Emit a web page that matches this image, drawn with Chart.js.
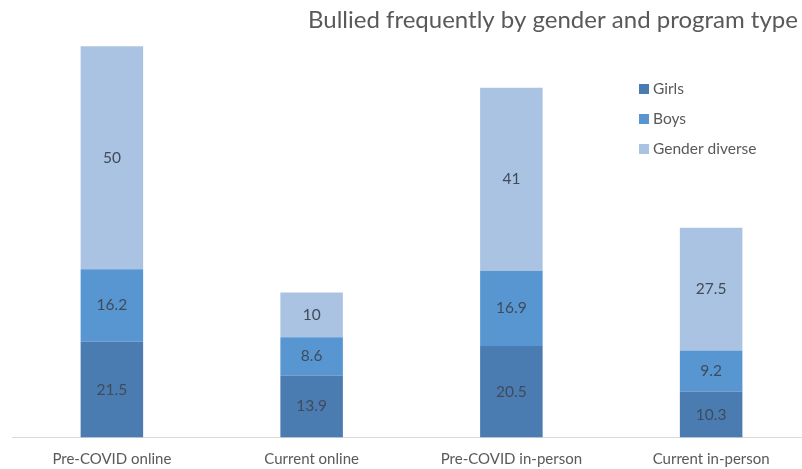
<!DOCTYPE html>
<html>
<head>
<meta charset="utf-8">
<script src="https://cdn.jsdelivr.net/npm/chart.js@4/dist/chart.umd.min.js"></script>
<style>
  html, body { margin: 0; padding: 0; background: #ffffff; overflow: hidden; }
  #wrap { width: 802px; height: 469px; overflow: hidden; position: relative; }
  canvas { display: block; }
</style>
</head>
<body>
<div id="wrap"><canvas id="c" width="815" height="469"></canvas></div>
<script>
const titleText = "Bullied frequently by gender and program type";
const categories = ["Pre-COVID online", "Current online", "Pre-COVID in-person", "Current in-person"];
const seriesNames = ["Girls", "Boys", "Gender diverse"];
const girls = [21.5, 13.9, 20.5, 10.3];
const boys = [16.2, 8.6, 16.9, 9.2];
const genderDiverse = [50, 10, 41, 27.5];
const colors = ["#4a7bb1", "#5896d2", "#aac3e3"];

const FONT = "Lato, 'Open Sans', sans-serif";

const titlePlugin = {
  id: 'customTitle',
  afterDraw(chart) {
    const ctx = chart.ctx;
    ctx.save();
    ctx.font = "24px " + FONT;
    ctx.fillStyle = "#595959";
    ctx.textAlign = "left";
    ctx.textBaseline = "alphabetic";
    ctx.fillText(titleText, 308, 28);
    ctx.restore();
  }
};

const legendPlugin = {
  id: 'customLegend',
  afterDraw(chart) {
    const ctx = chart.ctx;
    ctx.save();
    ctx.font = "15.5px " + FONT;
    ctx.textBaseline = "middle";
    ctx.textAlign = "left";
    chart.data.datasets.forEach((ds, i) => {
      const cy = 89 + i * 30;
      ctx.fillStyle = ds.backgroundColor;
      ctx.fillRect(639, cy - 5, 10, 10);
      ctx.fillStyle = "#595959";
      ctx.fillText(ds.label, 653, cy);
    });
    ctx.restore();
  }
};

const valueLabelPlugin = {
  id: 'valueLabels',
  afterDatasetsDraw(chart) {
    const ctx = chart.ctx;
    ctx.save();
    ctx.font = "15.5px " + FONT;
    ctx.fillStyle = "#404b5a";
    ctx.textAlign = "center";
    ctx.textBaseline = "middle";
    chart.data.datasets.forEach((ds, i) => {
      const meta = chart.getDatasetMeta(i);
      meta.data.forEach((bar, j) => {
        const cy = (bar.y + bar.base) / 2;
        ctx.fillText(String(ds.data[j]), bar.x, cy);
      });
    });
    ctx.restore();
  }
};

new Chart(document.getElementById('c'), {
  type: 'bar',
  data: {
    labels: categories,
    datasets: [
      { label: seriesNames[0], data: girls, backgroundColor: colors[0] },
      { label: seriesNames[1], data: boys, backgroundColor: colors[1] },
      { label: seriesNames[2], data: genderDiverse, backgroundColor: colors[2] }
    ]
  },
  options: {
    responsive: false,
    animation: false,
    layout: { padding: { top: 36, left: 12, right: 4, bottom: 0 } },
    datasets: { bar: { categoryPercentage: 1, barPercentage: 0.313, borderWidth: 0 } },
    plugins: {
      legend: { display: false },
      title: { display: false },
      tooltip: { enabled: false }
    },
    scales: {
      x: {
        stacked: true,
        grid: { display: false },
        border: { display: true, color: "#d9d9d9", width: 1 },
        ticks: { color: "#595959", font: { family: FONT, size: 15 }, padding: 5, maxRotation: 0 },
        afterFit(scale) { scale.height = 31.5; }
      },
      y: {
        stacked: true,
        display: false,
        min: 0,
        max: 90
      }
    }
  },
  plugins: [titlePlugin, legendPlugin, valueLabelPlugin]
});
</script>
</body>
</html>
